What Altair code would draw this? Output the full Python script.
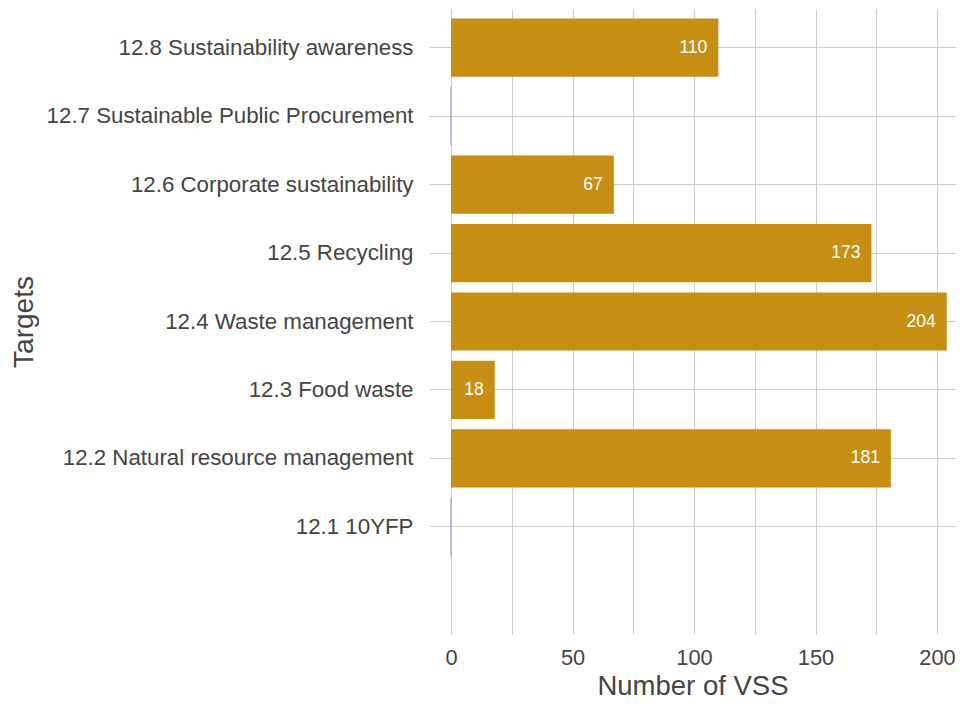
import altair as alt
import pandas as pd

targets = [
    "12.8 Sustainability awareness",
    "12.7 Sustainable Public Procurement",
    "12.6 Corporate sustainability",
    "12.5 Recycling",
    "12.4 Waste management",
    "12.3 Food waste",
    "12.2 Natural resource management",
    "12.1 10YFP",
]
counts = [110, 0, 67, 173, 204, 18, 181, 0]

x_ticks = [0, 25, 50, 75, 100, 125, 150, 175, 200]

df = pd.DataFrame({"target": targets, "count": counts})

FONT = "Liberation Sans"
BAR = "#C68E12"
TXT = "#444444"
GRID = "#CCCCCC"

y_domain = targets + [" "]
y_scale = alt.Scale(domain=y_domain, paddingInner=0.15, paddingOuter=0.14)

PLOT_H = 625

y_enc = alt.Y(
    "target:N",
    sort=None,
    scale=y_scale,
    axis=alt.Axis(
        title="Targets",
        values=targets,
        bandPosition=0.5,
        grid=True,
        gridColor=GRID,
        gridWidth=1,
        ticks=False,
        domain=False,
        labelFont=FONT,
        labelFontSize=22.3,
        labelColor=TXT,
        labelPadding=16,
        labelLimit=600,
        titleFont=FONT,
        titleFontSize=28,
        titleFontWeight="normal",
        titleColor=TXT,
        titleAngle=270,
        titleX=-405,
        titleY=PLOT_H / 2,
        titleAlign="center",
        titleBaseline="middle",
    ),
)

x_enc = alt.X(
    "count:Q",
    scale=alt.Scale(domain=[-9.05, 207.8], nice=False, zero=False),
    axis=alt.Axis(
        title="Number of VSS",
        values=x_ticks,
        labelExpr="datum.value % 50 === 0 ? datum.label : ''",
        grid=True,
        gridColor=GRID,
        gridWidth=1,
        ticks=False,
        domain=False,
        labelFont=FONT,
        labelFontSize=21.8,
        labelColor=TXT,
        labelPadding=13,
        titleFont=FONT,
        titleFontSize=27.5,
        titleFontWeight="normal",
        titleColor=TXT,
        titlePadding=4,
    ),
)

bars = alt.Chart(df).mark_bar(color=BAR, stroke="#A8B2C4").encode(
    y=y_enc,
    x=x_enc,
    x2=alt.datum(0),
    strokeWidth=alt.condition("datum['count'] === 0", alt.value(1), alt.value(0)),
)

labels = (
    alt.Chart(df)
    .transform_filter("datum['count'] > 0")
    .mark_text(align="right", baseline="middle", dx=-11, color="white", font=FONT, fontSize=17.5)
    .encode(
        y=alt.Y("target:N", sort=None, scale=y_scale),
        x=alt.X("count:Q"),
        text=alt.Text("count:Q"),
    )
)

chart = (
    alt.layer(bars, labels)
    .properties(
        width=527,
        height=PLOT_H,
        padding={"left": 421, "top": 1, "right": 0, "bottom": 68},
        autosize=alt.AutoSizeParams(type="none"),
    )
    .configure_view(stroke=None)
)

chart.save("out.html", embed_options={"renderer": "svg", "actions": False})
